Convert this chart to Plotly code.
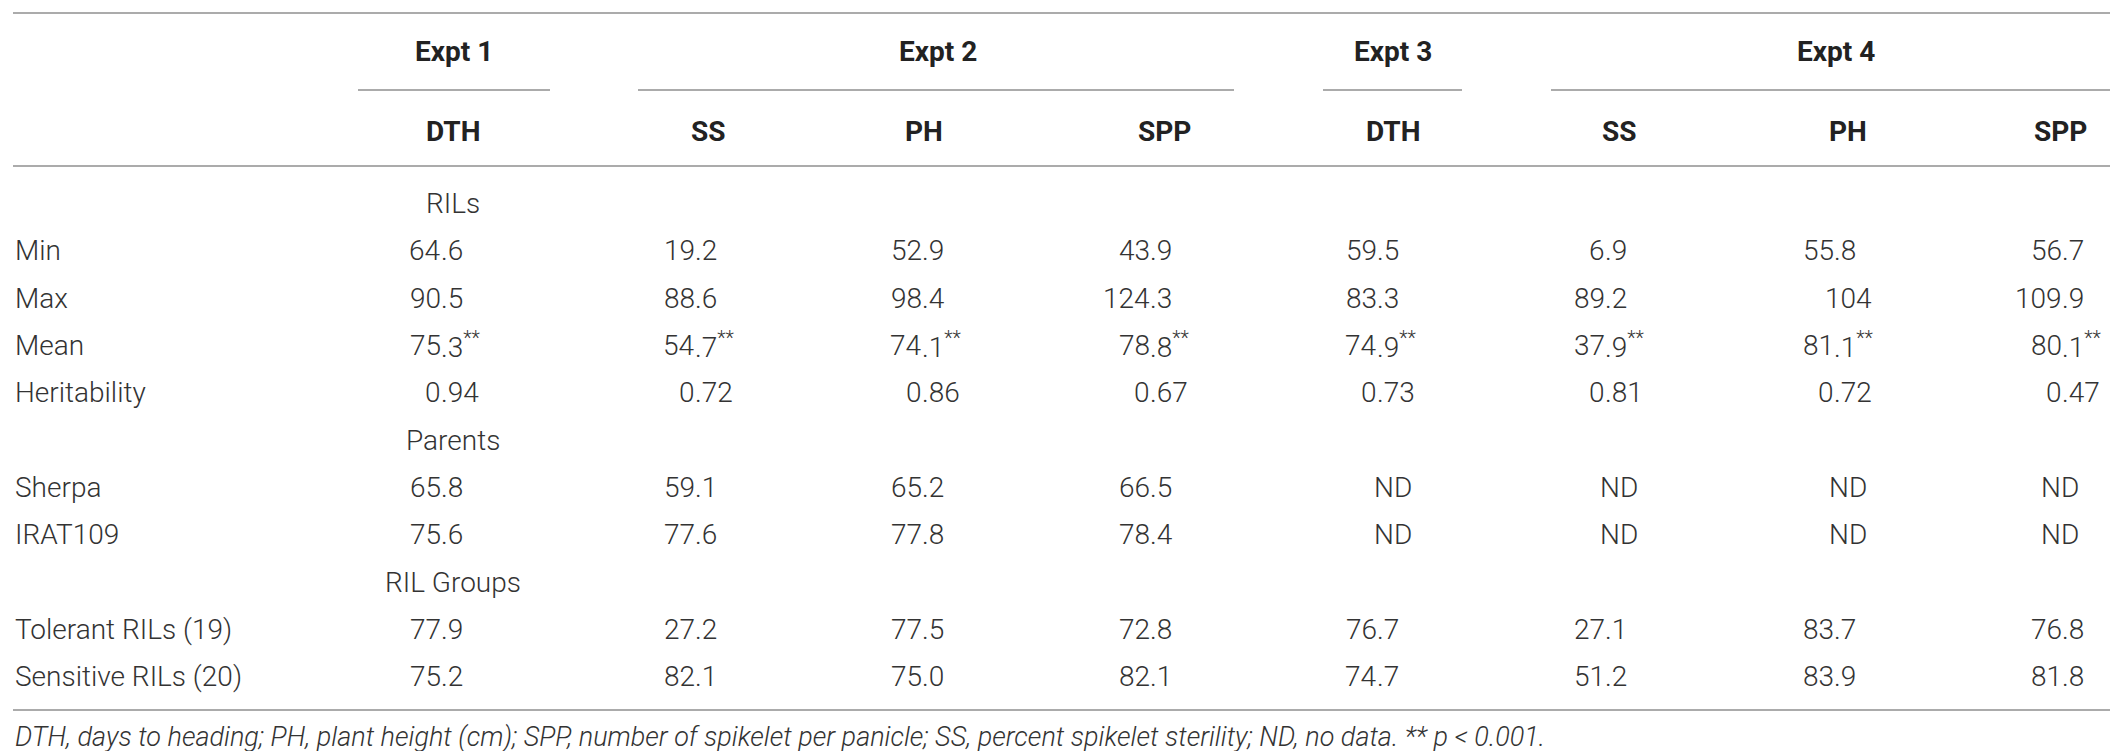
import plotly.graph_objects as go

# ---------------- data ----------------
experiments = ["Expt 1", "Expt 2", "Expt 3", "Expt 4"]
traits = ["DTH", "SS", "PH", "SPP", "DTH", "SS", "PH", "SPP"]
sections = ["RILs", "Parents", "RIL Groups"]

row_labels = ["Min", "Max", "Mean", "Heritability",
              "Sherpa", "IRAT109",
              "Tolerant RILs (19)", "Sensitive RILs (20)"]
min_vals = ["64.6", "19.2", "52.9", "43.9", "59.5", "6.9", "55.8", "56.7"]
max_vals = ["90.5", "88.6", "98.4", "124.3", "83.3", "89.2", "104", "109.9"]
mean_vals = ["75.3**", "54.7**", "74.1**", "78.8**", "74.9**", "37.9**", "81.1**", "80.1**"]
herit_vals = ["0.94", "0.72", "0.86", "0.67", "0.73", "0.81", "0.72", "0.47"]
sherpa_vals = ["65.8", "59.1", "65.2", "66.5", "ND", "ND", "ND", "ND"]
irat_vals = ["75.6", "77.6", "77.8", "78.4", "ND", "ND", "ND", "ND"]
tolerant_vals = ["77.9", "27.2", "77.5", "72.8", "76.7", "27.1", "83.7", "76.8"]
sensitive_vals = ["75.2", "82.1", "75.0", "82.1", "74.7", "51.2", "83.9", "81.8"]

footnote = ("DTH, days to heading; PH, plant height (cm); SPP, number of spikelet per panicle; "
            "SS, percent spikelet sterility; ND, no data. ** p &lt; 0.001.")

# ---------------- layout geometry ----------------
W, H = 2118, 751
col_center = [445, 700, 916, 1156, 1385, 1611, 1840, 2052]
col_decimal = [433, 687, 914, 1142, 1369, 1597, 1826, 2054]
expt_center = [446, 930, 1385, 1828]
expt_span = [(350, 542), (630, 1226), (1315, 1454), (1543, 2111)]
y_top_line, y_sub_line, y_head_line, y_bottom_line = 5, 82, 158, 702
y_expt, y_trait = 43, 123
section_y = [195, 432, 574]
row_y = [242, 290, 337, 384, 479, 526, 621, 668]
y_foot = 729
label_x = 7

FONT = "Roboto"
body = dict(family=FONT, size=28, color="#333333", weight=300)
head = dict(family=FONT, size=28, color="#222222", weight=700)
line_col = "#8f8f8f"

rows_values = [min_vals, max_vals, mean_vals, herit_vals,
               sherpa_vals, irat_vals, tolerant_vals, sensitive_vals]

annotations = []
shapes = []

def ann(x, y, text, font, xanchor="center"):
    annotations.append(dict(x=x, y=y, xref="x", yref="y", text=text, showarrow=False,
                            xanchor=xanchor, yanchor="middle", font=font,
                            borderpad=0, borderwidth=0))

# horizontal rules
for yy in (y_top_line, y_head_line, y_bottom_line):
    shapes.append(dict(type="line", xref="x", yref="y", x0=5, x1=2112, y0=yy, y1=yy,
                       line=dict(color=line_col, width=1.5)))
for (a, b) in expt_span:
    shapes.append(dict(type="line", xref="x", yref="y", x0=a, x1=b, y0=y_sub_line, y1=y_sub_line,
                       line=dict(color=line_col, width=1.5)))

# headers
for name, xc in zip(experiments, expt_center):
    ann(xc, y_expt, name, head)
for t, xc in zip(traits, col_center):
    ann(xc, y_trait, t, head)

# section labels
for s, yy in zip(sections, section_y):
    ann(col_center[0], yy, s, body)

# rows (decimal-aligned values)
for lab, yy, vals in zip(row_labels, row_y, rows_values):
    ann(label_x, yy, lab, body, xanchor="left")
    for j, v in enumerate(vals):
        if "." in v:
            ip, fp = v.split(".", 1)
            fp = "." + fp.replace("**", "<sup>**</sup>")
            ann(col_decimal[j], yy, ip, body, xanchor="right")
            ann(col_decimal[j], yy, fp, body, xanchor="left")
        else:
            ann(col_center[j], yy, v, body)

# footnote
foot_font = dict(family=FONT, size=27, color="#333333", weight=300, style="italic")
ann(label_x, y_foot, footnote, foot_font, xanchor="left")

fig = go.Figure()
fig.add_trace(go.Scatter(x=[0, W], y=[0, H], mode="markers",
                         marker=dict(opacity=0), hoverinfo="skip", showlegend=False))
fig.update_layout(
    width=W, height=H, margin=dict(l=0, r=0, t=0, b=0),
    paper_bgcolor="white", plot_bgcolor="white",
    xaxis=dict(range=[0, W], visible=False, fixedrange=True),
    yaxis=dict(range=[H, 0], visible=False, fixedrange=True),
    annotations=annotations, shapes=shapes, showlegend=False,
)
fig.write_html("out.html")
